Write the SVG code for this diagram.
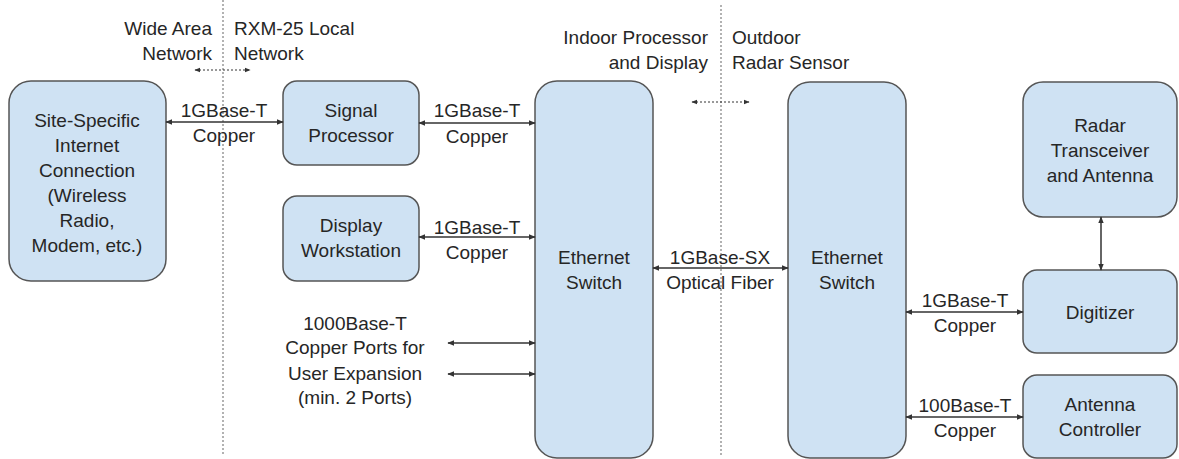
<svg xmlns="http://www.w3.org/2000/svg" width="1179" height="459" viewBox="0 0 1179 459">
<style>
.box{fill:#cfe2f3;stroke:#555;stroke-width:1.5}
text{font-family:"Liberation Sans",Arial,sans-serif;font-size:19px;fill:#262626;text-anchor:middle}
.l{text-anchor:start}.r{text-anchor:end}
.con{stroke:#333;stroke-width:1.5;fill:none;marker-start:url(#a);marker-end:url(#a)}
.dot{stroke:#333;stroke-width:1;stroke-dasharray:2 2;fill:none;marker-start:url(#s);marker-end:url(#s)}
.div{stroke:#999;stroke-width:1.5;stroke-dasharray:2 2;fill:none}
</style>
<defs>
<marker id="a" viewBox="0 0 10 10" refX="9" refY="5" markerWidth="7" markerHeight="7" markerUnits="userSpaceOnUse" orient="auto-start-reverse"><path d="M0,1 L10,5 L0,9 z" fill="#333"/></marker>
<marker id="s" viewBox="0 0 10 10" refX="9" refY="5" markerWidth="6" markerHeight="6" markerUnits="userSpaceOnUse" orient="auto-start-reverse"><path d="M0,1 L10,5 L0,9 z" fill="#333"/></marker>
</defs>
<rect width="1179" height="459" fill="#fff"/>
<g id="dividers">
<line class="div" x1="223" y1="0" x2="223" y2="456"/>
<line class="div" x1="721" y1="5" x2="721" y2="456"/>
<line class="dot" x1="195" y1="70" x2="250" y2="70"/>
<line class="dot" x1="692" y1="102" x2="749" y2="102"/>
<text class="r" x="212" y="35">Wide Area</text>
<text class="r" x="212" y="60">Network</text>
<text class="l" x="234" y="35">RXM-25 Local</text>
<text class="l" x="234" y="60">Network</text>
<text class="r" x="708" y="44">Indoor Processor</text>
<text class="r" x="708" y="69">and Display</text>
<text class="l" x="732" y="44">Outdoor</text>
<text class="l" x="732" y="69">Radar Sensor</text>
</g>
<g id="site">
<rect class="box" x="9" y="81" width="157" height="200" rx="22"/>
<text x="87" y="127">Site-Specific</text>
<text x="87" y="152">Internet</text>
<text x="87" y="177">Connection</text>
<text x="87" y="202">(Wireless</text>
<text x="87" y="227">Radio,</text>
<text x="87" y="252">Modem, etc.)</text>
</g>
<g id="signal-processor">
<rect class="box" x="283" y="81" width="136" height="84" rx="14"/>
<text x="351" y="117">Signal</text>
<text x="351" y="142">Processor</text>
</g>
<g id="display-workstation">
<rect class="box" x="283" y="196" width="136" height="85" rx="14"/>
<text x="351" y="232">Display</text>
<text x="351" y="257">Workstation</text>
</g>
<g id="switch-indoor">
<rect class="box" x="535" y="81" width="118" height="377" rx="22"/>
<text x="594" y="264">Ethernet</text>
<text x="594" y="289">Switch</text>
</g>
<g id="switch-outdoor">
<rect class="box" x="788" y="82" width="118" height="376" rx="22"/>
<text x="847" y="264">Ethernet</text>
<text x="847" y="289">Switch</text>
</g>
<g id="radar">
<rect class="box" x="1023" y="82" width="154" height="135" rx="20"/>
<text x="1100" y="132">Radar</text>
<text x="1100" y="157">Transceiver</text>
<text x="1100" y="182">and Antenna</text>
</g>
<g id="digitizer">
<rect class="box" x="1023" y="270" width="154" height="83" rx="14"/>
<text x="1100" y="319">Digitizer</text>
</g>
<g id="antenna-controller">
<rect class="box" x="1023" y="375" width="154" height="83" rx="14"/>
<text x="1100" y="411">Antenna</text>
<text x="1100" y="436">Controller</text>
</g>
<g id="connectors">
<line class="con" x1="166" y1="122" x2="283" y2="122"/>
<line class="con" x1="419" y1="123" x2="535" y2="123"/>
<line class="con" x1="419" y1="237" x2="535" y2="237"/>
<line class="con" x1="653" y1="268" x2="788" y2="268"/>
<line class="con" x1="906" y1="312" x2="1023" y2="312"/>
<line class="con" x1="906" y1="417" x2="1023" y2="417"/>
<line class="con" x1="1101" y1="217" x2="1101" y2="270"/>
<line class="con" x1="448" y1="343" x2="535" y2="343"/>
<line class="con" x1="448" y1="374" x2="535" y2="374"/>
<text x="224" y="117">1GBase-T</text>
<text x="224" y="142">Copper</text>
<text x="477" y="117">1GBase-T</text>
<text x="477" y="143">Copper</text>
<text x="477" y="234">1GBase-T</text>
<text x="477" y="259">Copper</text>
<text x="720" y="264">1GBase-SX</text>
<text x="720" y="289">Optical Fiber</text>
<text x="965" y="307">1GBase-T</text>
<text x="965" y="332">Copper</text>
<text x="965" y="412">100Base-T</text>
<text x="965" y="437">Copper</text>
<text x="355" y="330">1000Base-T</text>
<text x="355" y="354">Copper Ports for</text>
<text x="355" y="380">User Expansion</text>
<text x="355" y="404">(min. 2 Ports)</text>
</g>
</svg>
